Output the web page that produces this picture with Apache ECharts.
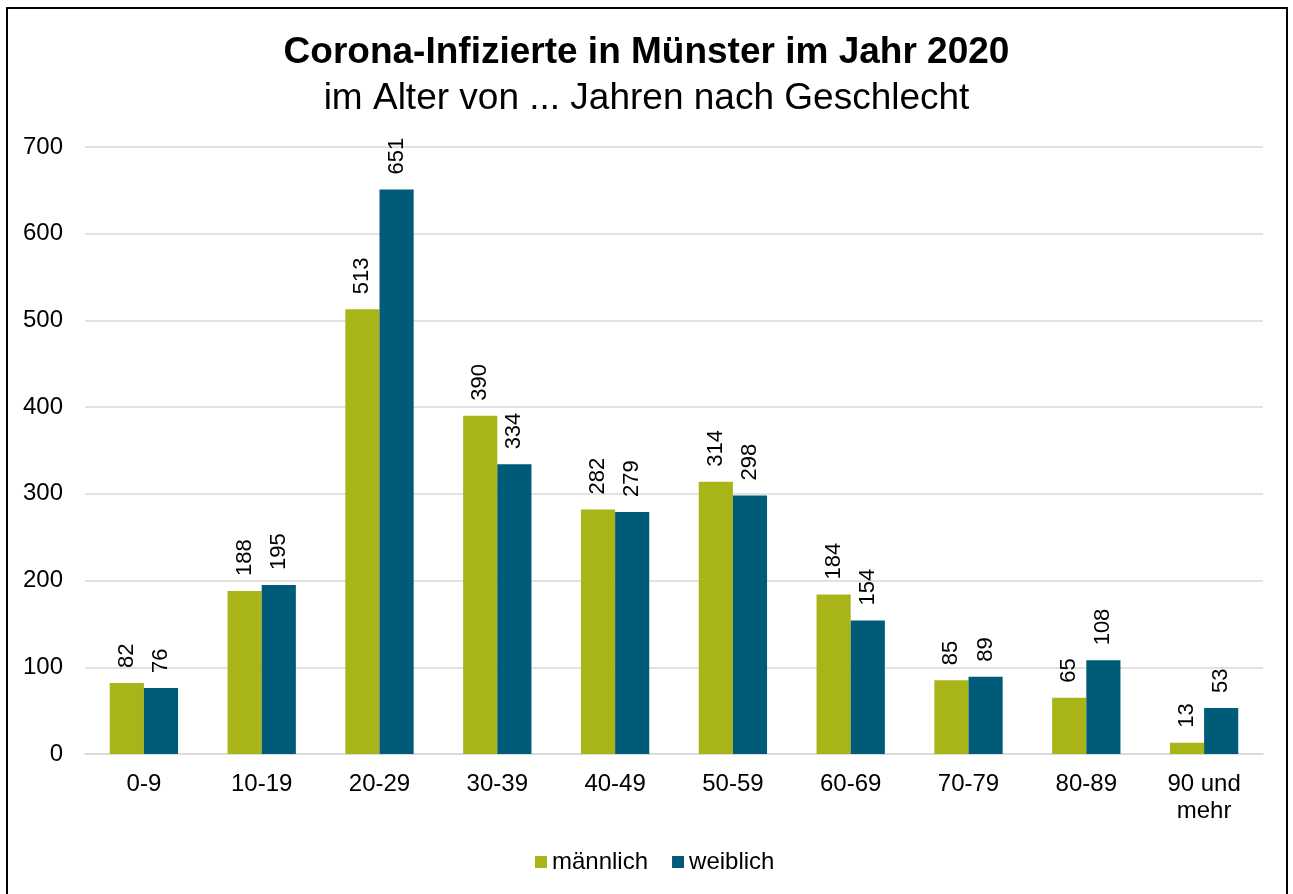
<!DOCTYPE html>
<html>
<head>
<meta charset="utf-8">
<script src="https://cdn.jsdelivr.net/npm/echarts@6/dist/echarts.min.js"></script>
<style>
  html, body { margin: 0; padding: 0; background: #fff; }
  #main { width: 1293px; height: 894px; }
</style>
</head>
<body>
<div id="main"></div>
<script>
// Altersgruppen
const ageGroups = ['0-9', '10-19', '20-29', '30-39', '40-49', '50-59', '60-69', '70-79', '80-89', '90 und\nmehr'];
const maennlich = [82, 188, 513, 390, 282, 314, 184, 85, 65, 13];
const weiblich = [76, 195, 651, 334, 279, 298, 154, 89, 108, 53];
const yTicks = [0, 100, 200, 300, 400, 500, 600, 700];

const font = 'Liberation Sans, Arial, sans-serif';

const barLabel = {
  show: true,
  position: 'top',
  rotate: 90,
  align: 'left',
  verticalAlign: 'middle',
  distance: 15,
  fontSize: 22,
  fontFamily: font,
  color: '#000'
};

let chart = echarts.init(document.getElementById('main'));
chart.setOption({
  animation: false,
  backgroundColor: '#fff',
  title: [
    {
      text: 'Corona-Infizierte in Münster im Jahr 2020',
      left: 'center',
      top: 29,
      textStyle: { fontFamily: font, fontSize: 37, fontWeight: 'bold', color: '#000' }
    },
    {
      text: 'im Alter von ... Jahren nach Geschlecht',
      left: 'center',
      top: 75,
      textStyle: { fontFamily: font, fontSize: 37, fontWeight: 'normal', color: '#000' }
    }
  ],
  legend: {
    top: 845,
    left: 530,
    itemWidth: 12,
    itemHeight: 12,
    itemGap: 24,
    icon: 'rect',
    textStyle: { fontFamily: font, fontSize: 24, color: '#000' },
    data: ['männlich', 'weiblich']
  },
  grid: { left: 85, right: 30, top: 147, bottom: 140 },
  xAxis: {
    type: 'category',
    data: ageGroups,
    axisLine: { lineStyle: { color: '#d9d9d9', width: 1.5 } },
    axisTick: { show: false },
    axisLabel: { fontFamily: font, fontSize: 24, color: '#000', margin: 17, lineHeight: 27 }
  },
  yAxis: {
    type: 'value',
    min: yTicks[0],
    max: yTicks[yTicks.length - 1],
    interval: 100,
    axisLine: { show: false },
    axisTick: { show: false },
    splitLine: { lineStyle: { color: '#d9d9d9', width: 1.5 } },
    axisLabel: { fontFamily: font, fontSize: 24, color: '#000', margin: 22 }
  },
  series: [
    {
      name: 'männlich',
      type: 'bar',
      data: maennlich,
      barGap: '0%',
      barCategoryGap: '42%',
      itemStyle: { color: '#a9b419' },
      label: barLabel
    },
    {
      name: 'weiblich',
      type: 'bar',
      data: weiblich,
      itemStyle: { color: '#005b78' },
      label: barLabel
    }
  ],
  graphic: [
    {
      type: 'rect',
      shape: { x: 7, y: 8, width: 1280, height: 900 },
      style: { fill: null, stroke: '#000', lineWidth: 2 },
      silent: true
    }
  ]
});
</script>
</body>
</html>
